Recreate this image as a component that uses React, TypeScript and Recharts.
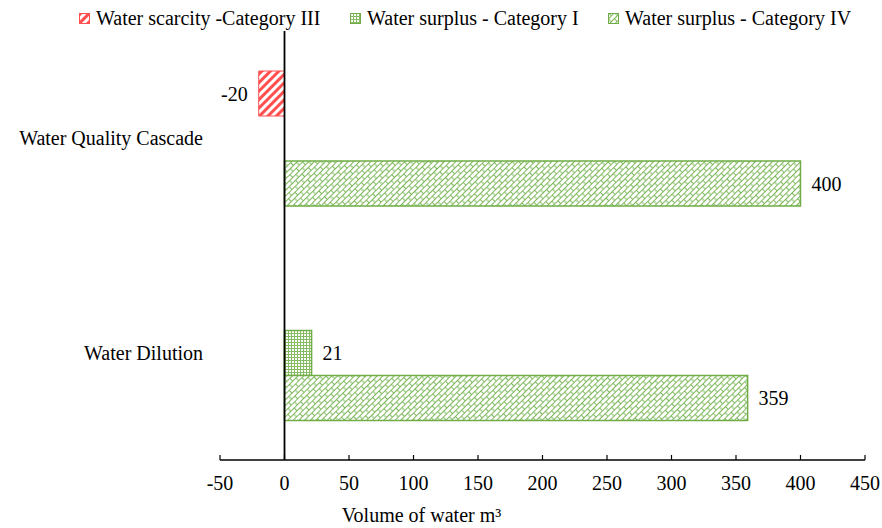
import {
  Bar,
  BarChart,
  LabelList,
  ReferenceLine,
  XAxis,
  YAxis,
} from "recharts";

const categories = ["Water Quality Cascade", "Water Dilution"];
const scarcityIII = [-20, null];
const surplusI = [null, 21];
const surplusIV = [400, 359];
const xTicks = [-50, 0, 50, 100, 150, 200, 250, 300, 350, 400, 450];

const seriesNames = [
  "Water scarcity -Category III",
  "Water surplus - Category I",
  "Water surplus - Category IV",
];

const RED = "#ff4f4f";
const GREEN = "#70ad47";
const FONT = '"Liberation Serif", "Times New Roman", serif';

const data = categories.map((name, i) => ({
  name,
  scarcityIII: scarcityIII[i],
  surplusI: surplusI[i],
  surplusIV: surplusIV[i],
}));

function PatternDefs() {
  return (
    <svg width={0} height={0} style={{ position: "absolute" }} aria-hidden>
      <defs>
        <pattern
          id="pat-stripes"
          width={6}
          height={6}
          patternUnits="userSpaceOnUse"
          patternTransform="rotate(45)"
        >
          <rect width={6} height={6} fill="#fff" />
          <rect width={3} height={6} fill={RED} />
        </pattern>
        <pattern id="pat-grid" width={3} height={3} patternUnits="userSpaceOnUse">
          <rect width={3} height={3} fill="#fff" />
          <path d="M0 0.5 H3 M0.5 0 V3" stroke="#86bb63" strokeWidth={1} />
        </pattern>
        <pattern
          id="pat-shingle"
          width={9}
          height={8}
          patternUnits="userSpaceOnUse"
          patternTransform="rotate(-45)"
        >
          <rect width={9} height={8} fill="#fff" />
          <path
            d="M0 0.5 H9 M0 4.5 H9 M0.5 0 V4.5 M5 4.5 V8"
            stroke="#7db85a"
            strokeWidth={1}
            fill="none"
          />
        </pattern>
      </defs>
    </svg>
  );
}

const legendItems = [
  { name: seriesNames[0], fill: "url(#pat-stripes)", stroke: RED, left: 79 },
  { name: seriesNames[1], fill: "url(#pat-grid)", stroke: GREEN, left: 350 },
  { name: seriesNames[2], fill: "url(#pat-shingle)", stroke: GREEN, left: 608 },
];

function ChartLegend() {
  return (
    <>
      {legendItems.map((item) => (
        <div
          key={item.name}
          style={{
            position: "absolute",
            left: item.left,
            top: 7,
            display: "flex",
            alignItems: "center",
            gap: 6,
            fontFamily: FONT,
            fontSize: 20,
            color: "#000",
            whiteSpace: "nowrap",
          }}
        >
          <svg width={11} height={11} aria-hidden>
            <rect x={0.5} y={0.5} width={10} height={10} fill={item.fill} stroke={item.stroke} />
          </svg>
          {item.name}
        </div>
      ))}
    </>
  );
}

export default function App() {
  return (
    <div
      style={{
        position: "absolute",
        left: 0,
        top: 0,
        width: 882,
        height: 528,
        background: "#fff",
        overflow: "hidden",
      }}
    >
      <PatternDefs />
      <ChartLegend />
      <BarChart
        width={882}
        height={528}
        data={data}
        layout="vertical"
        margin={{ top: 31, right: 17, bottom: 38, left: 0 }}
        barGap={0}
        barCategoryGap={40}
        style={{ fontFamily: FONT }}
      >
        <XAxis
          type="number"
          domain={[-50, 450]}
          ticks={xTicks}
          height={30}
          tickSize={-5}
          tickMargin={21}
          tick={{ fill: "#000", fontSize: 20, fontFamily: FONT }}
          axisLine={{ stroke: "#000", strokeWidth: 1.5 }}
          tickLine={{ stroke: "#000", strokeWidth: 1.2 }}
          label={{
            value: "Volume of water m³",
            position: "insideBottom",
            offset: -32,
            dx: -121,
            fill: "#000",
            fontSize: 20,
            fontFamily: FONT,
          }}
        />
        <YAxis
          type="category"
          dataKey="name"
          width={220}
          axisLine={false}
          tickLine={false}
          tickSize={0}
          tickMargin={17}
          tick={{ fill: "#000", fontSize: 20, fontFamily: FONT }}
        />
        <Bar
          dataKey="scarcityIII"
          name={seriesNames[0]}
          fill="url(#pat-stripes)"
          stroke={RED}
          strokeWidth={1}
          isAnimationActive={false}
        >
          <LabelList
            dataKey="scarcityIII"
            position="right"
            offset={11}
            fill="#000"
            fontSize={20}
            fontFamily={FONT}
          />
        </Bar>
        <Bar
          dataKey="surplusI"
          name={seriesNames[1]}
          fill="url(#pat-grid)"
          stroke={GREEN}
          strokeWidth={1.5}
          isAnimationActive={false}
        >
          <LabelList
            dataKey="surplusI"
            position="right"
            offset={11}
            fill="#000"
            fontSize={20}
            fontFamily={FONT}
          />
        </Bar>
        <Bar
          dataKey="surplusIV"
          name={seriesNames[2]}
          fill="url(#pat-shingle)"
          stroke={GREEN}
          strokeWidth={1.5}
          isAnimationActive={false}
        >
          <LabelList
            dataKey="surplusIV"
            position="right"
            offset={11}
            fill="#000"
            fontSize={20}
            fontFamily={FONT}
          />
        </Bar>
        <ReferenceLine x={0} stroke="#000" strokeWidth={1.8} ifOverflow="extendDomain" />
      </BarChart>
    </div>
  );
}
